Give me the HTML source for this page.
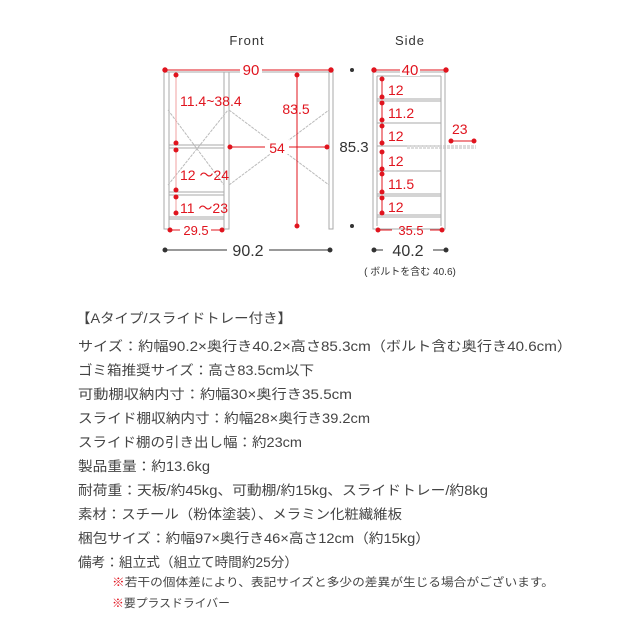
<!DOCTYPE html>
<html><head><meta charset="utf-8"><style>
html,body{margin:0;padding:0;background:#fff;}
svg{display:block;}
.j{font-family:"Liberation Sans","Noto Sans CJK JP",sans-serif;fill:#444;}
.r{font-family:"Liberation Sans",sans-serif;fill:#e0141e;}
.d{font-family:"Liberation Sans",sans-serif;fill:#333;}
</style></head><body>
<svg width="640" height="640" viewBox="0 0 640 640" xmlns="http://www.w3.org/2000/svg">
<!-- titles -->
<text x="247" y="45" class="d" font-size="13" text-anchor="middle" letter-spacing="1">Front</text>
<text x="410" y="45" class="d" font-size="13" text-anchor="middle" letter-spacing="1">Side</text>
<!-- FRONT frame -->
<g stroke="#aaa" stroke-width="1" fill="none">
<rect x="164" y="72" width="5" height="157"/>
<rect x="224" y="72" width="5" height="157"/>
<rect x="329" y="72" width="4" height="157"/>
<line x1="164" y1="72" x2="333" y2="72"/>
<line x1="169" y1="145" x2="224" y2="145"/><line x1="169" y1="148" x2="224" y2="148"/>
<line x1="169" y1="192" x2="224" y2="192"/><line x1="169" y1="195" x2="224" y2="195"/>
<line x1="169" y1="217" x2="224" y2="217"/><line x1="169" y1="219" x2="224" y2="219"/>
</g>
<g stroke="#bbb" stroke-width="1" fill="none" stroke-dasharray="3,1">
<line x1="168" y1="110" x2="224" y2="185"/><line x1="168" y1="185" x2="228" y2="110"/>
<line x1="229" y1="110" x2="329" y2="185"/><line x1="229" y1="185" x2="329" y2="110"/>
</g>
<!-- front red dims -->
<g stroke="#e0141e" stroke-width="1" fill="#e0141e">
<line x1="165" y1="70" x2="240" y2="70"/><line x1="262" y1="70" x2="331" y2="70"/>
<circle cx="165" cy="70" r="2.2"/><circle cx="331" cy="70" r="2.2"/>
<line x1="176" y1="75" x2="176" y2="143" stroke="#f0a0a0"/>
<circle cx="176" cy="75" r="2"/><circle cx="176" cy="143" r="2"/>
<line x1="176" y1="150" x2="176" y2="190" stroke="#f0a0a0"/>
<circle cx="176" cy="150" r="2"/><circle cx="176" cy="190" r="2"/>
<line x1="176" y1="197" x2="176" y2="213" stroke="#f0a0a0"/>
<circle cx="176" cy="197" r="2"/><circle cx="176" cy="213" r="2"/>
<line x1="297" y1="75" x2="297" y2="226"/>
<circle cx="297" cy="75" r="2"/><circle cx="297" cy="226" r="2"/>
<line x1="230" y1="147" x2="267" y2="147"/><line x1="288" y1="147" x2="327" y2="147"/>
<circle cx="230" cy="147" r="2"/><circle cx="327" cy="147" r="2"/>
<line x1="170" y1="230" x2="180" y2="230"/><line x1="211" y1="230" x2="222" y2="230"/>
<circle cx="170" cy="230" r="2"/><circle cx="222" cy="230" r="2"/>
</g>
<rect x="240" y="62" width="22" height="14" fill="#fff"/>
<rect x="265" y="140" width="24" height="14" fill="#fff"/>
<text x="251" y="75" class="r" font-size="15" text-anchor="middle">90</text>
<text x="180" y="106" class="r" font-size="14">11.4~38.4</text>
<text x="296" y="114" class="r" font-size="14" text-anchor="middle">83.5</text>
<text x="277" y="153" class="r" font-size="14" text-anchor="middle">54</text>
<text x="180" y="180" class="r" font-size="14">12 ～24</text>
<text x="180" y="213" class="r" font-size="14">11 ～23</text>
<text x="196" y="235" class="r" font-size="13" text-anchor="middle">29.5</text>
<!-- 85.3 -->
<circle cx="352" cy="70" r="2" fill="#333"/><circle cx="352" cy="226" r="2" fill="#333"/>
<text x="354" y="152" class="d" font-size="15" text-anchor="middle">85.3</text>
<!-- 90.2 -->
<g stroke="#333" stroke-width="1" fill="#333">
<line x1="165" y1="250" x2="227" y2="250"/><line x1="269" y1="250" x2="330" y2="250"/>
<circle cx="165" cy="250" r="2"/><circle cx="330" cy="250" r="2"/>
<line x1="374" y1="250" x2="383" y2="250"/><line x1="433" y1="250" x2="446" y2="250"/>
<circle cx="374" cy="250" r="2"/><circle cx="446" cy="250" r="2"/>
</g>
<text x="248" y="256" class="d" font-size="16" text-anchor="middle">90.2</text>
<text x="408" y="256" class="d" font-size="16" text-anchor="middle">40.2</text>
<text x="410" y="275" class="j" font-size="10" text-anchor="middle" style="fill:#333">( ボルトを含む 40.6)</text>
<!-- SIDE frame -->
<g stroke="#aaa" stroke-width="1" fill="none">
<rect x="373" y="72" width="72" height="157"/>
<line x1="377" y1="76" x2="441" y2="76"/><line x1="377" y1="76" x2="377" y2="226"/><line x1="441" y1="76" x2="441" y2="226"/>
<line x1="377" y1="99" x2="441" y2="99"/><line x1="377" y1="101" x2="441" y2="101"/>
<line x1="377" y1="123" x2="441" y2="123"/>
<line x1="377" y1="146" x2="441" y2="146"/>
<line x1="377" y1="171" x2="441" y2="171"/>
<line x1="377" y1="194" x2="441" y2="194"/><line x1="377" y1="196" x2="441" y2="196"/>
<line x1="377" y1="215" x2="441" y2="215"/><line x1="377" y1="217" x2="441" y2="217"/>
</g>
<g stroke="#bbb" stroke-dasharray="3,1"><line x1="407" y1="146" x2="476" y2="146"/><line x1="407" y1="148" x2="476" y2="148"/></g>
<g stroke="#e0141e" stroke-width="1" fill="#e0141e">
<line x1="374" y1="70" x2="400" y2="70"/><line x1="420" y1="70" x2="446" y2="70"/>
<circle cx="374" cy="70" r="2.2"/><circle cx="446" cy="70" r="2.2"/>
<line x1="382" y1="79" x2="382" y2="97"/><circle cx="382" cy="79" r="2"/><circle cx="382" cy="97" r="2"/>
<line x1="382" y1="103" x2="382" y2="120"/><circle cx="382" cy="103" r="2"/><circle cx="382" cy="120" r="2"/>
<line x1="382" y1="126" x2="382" y2="143"/><circle cx="382" cy="126" r="2"/><circle cx="382" cy="143" r="2"/>
<line x1="382" y1="152" x2="382" y2="169"/><circle cx="382" cy="152" r="2"/><circle cx="382" cy="169" r="2"/>
<line x1="382" y1="174" x2="382" y2="192"/><circle cx="382" cy="174" r="2"/><circle cx="382" cy="192" r="2"/>
<line x1="382" y1="198" x2="382" y2="213"/><circle cx="382" cy="198" r="2"/><circle cx="382" cy="213" r="2"/>
<line x1="451" y1="141" x2="474" y2="141"/><circle cx="451" cy="141" r="2"/><circle cx="474" cy="141" r="2"/>
<line x1="378" y1="230" x2="392" y2="230"/><line x1="430" y1="230" x2="442" y2="230"/>
<circle cx="378" cy="230" r="2"/><circle cx="442" cy="230" r="2"/>
</g>
<rect x="400" y="62" width="20" height="14" fill="#fff"/>
<text x="410" y="75" class="r" font-size="15" text-anchor="middle">40</text>
<g class="r" font-size="14">
<text x="388" y="95">12</text><text x="388" y="118">11.2</text><text x="388" y="141">12</text>
<text x="388" y="166">12</text><text x="388" y="189">11.5</text><text x="388" y="212">12</text>
<text x="452" y="134">23</text>
</g>
<text x="411" y="235" class="r" font-size="13" text-anchor="middle">35.5</text>
<!-- text block -->
<g class="j" font-size="13.5">
<text x="76" y="323" textLength="216" lengthAdjust="spacingAndGlyphs">【Aタイプ/スライドトレー付き】</text>
<text x="78" y="351" textLength="494" lengthAdjust="spacingAndGlyphs">サイズ：約幅90.2×奥行き40.2×高さ85.3cm（ボルト含む奥行き40.6cm）</text>
<text x="78" y="375" textLength="236" lengthAdjust="spacingAndGlyphs">ゴミ箱推奨サイズ：高さ83.5cm以下</text>
<text x="78" y="399" textLength="274" lengthAdjust="spacingAndGlyphs">可動棚収納内寸：約幅30×奥行き35.5cm</text>
<text x="78" y="423" textLength="292" lengthAdjust="spacingAndGlyphs">スライド棚収納内寸：約幅28×奥行き39.2cm</text>
<text x="78" y="447" textLength="224" lengthAdjust="spacingAndGlyphs">スライド棚の引き出し幅：約23cm</text>
<text x="78" y="471" textLength="132" lengthAdjust="spacingAndGlyphs">製品重量：約13.6kg</text>
<text x="78" y="495" textLength="410" lengthAdjust="spacingAndGlyphs">耐荷重：天板/約45kg、可動棚/約15kg、スライドトレー/約8kg</text>
<text x="78" y="519" textLength="324" lengthAdjust="spacingAndGlyphs">素材：スチール（粉体塗装）、メラミン化粧繊維板</text>
<text x="78" y="543" textLength="352" lengthAdjust="spacingAndGlyphs">梱包サイズ：約幅97×奥行き46×高さ12cm（約15kg）</text>
<text x="78" y="567" textLength="220" lengthAdjust="spacingAndGlyphs">備考：組立式（組立て時間約25分）</text>
</g>
<g class="j" font-size="11.5">
<text x="112" y="586" textLength="442" lengthAdjust="spacingAndGlyphs"><tspan style="fill:#e0141e">※</tspan>若干の個体差により、表記サイズと多少の差異が生じる場合がございます。</text>
<text x="112" y="607" textLength="118" lengthAdjust="spacingAndGlyphs"><tspan style="fill:#e0141e">※</tspan>要プラスドライバー</text>
</g>
</svg>
</body></html>
